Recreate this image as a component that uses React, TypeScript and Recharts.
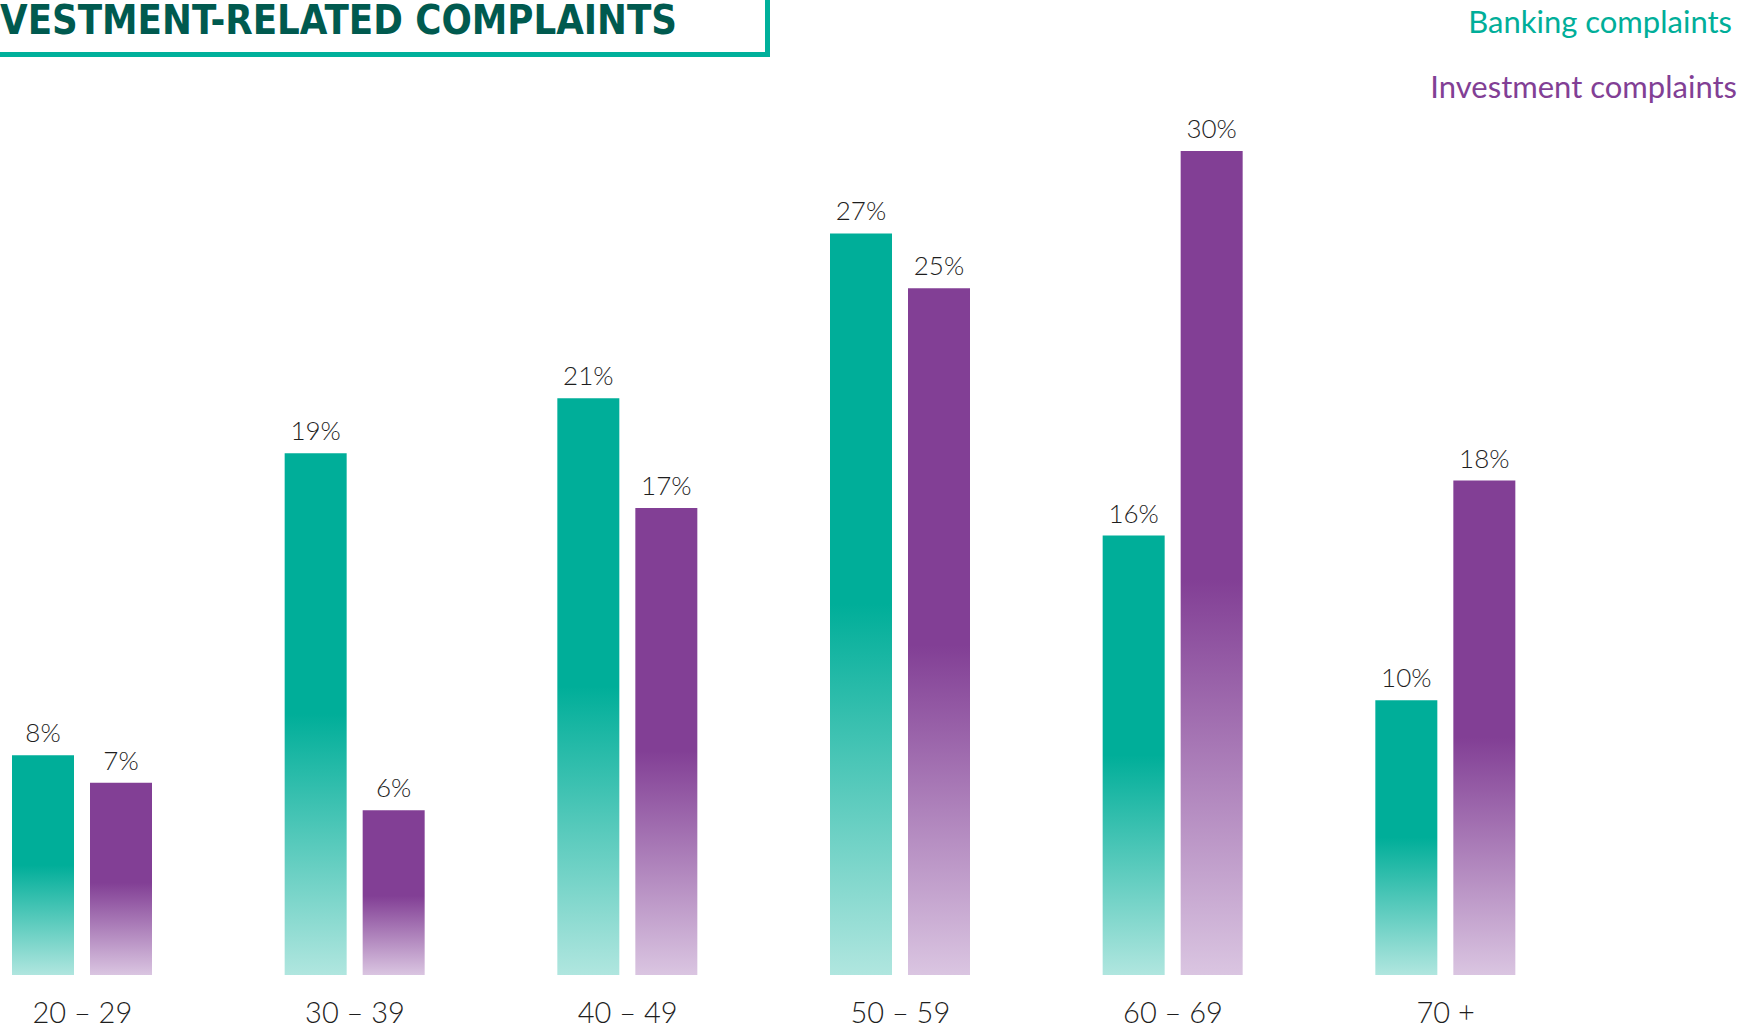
import React from 'react';
import { BarChart, Bar, XAxis, YAxis, LabelList } from 'recharts';

const ageGroups = ['20 – 29', '30 – 39', '40 – 49', '50 – 59', '60 – 69', '70 +'];
const bankingComplaints = [8, 19, 21, 27, 16, 10];
const investmentComplaints = [7, 6, 17, 25, 30, 18];

const chartData = ageGroups.map((age, i) => ({
  age,
  banking: bankingComplaints[i],
  investment: investmentComplaints[i],
}));

const TEAL = '#00ae99';
const PURPLE = '#823f95';
const FONT = 'Lato, "Noto Sans", sans-serif';

const AgeTick = (props: any) => {
  const { x, y, payload } = props;
  return (
    <text x={x} y={y} dy={46} textAnchor="middle" fill="#1e1e1e" fontSize={29} fontWeight={300} fontFamily={FONT}>
      {payload.value}
    </text>
  );
};

const App = () => {
  return (
    <div style={{ position: 'absolute', left: 0, top: 0, width: 1758, height: 1029, overflow: 'hidden', background: '#fff' }}>
      <div style={{ position: 'absolute', left: -54, top: 0 }}>
        <BarChart
          width={1636}
          height={1029}
          data={chartData}
          margin={{ top: 151, right: 0, left: 0, bottom: 24 }}
          barSize={62}
          barGap={16}
        >
          <defs>
            <linearGradient id="tealFade" x1="0" y1="0" x2="0" y2="1">
              <stop offset="0%" stopColor={TEAL} />
              <stop offset="50%" stopColor={TEAL} />
              <stop offset="100%" stopColor="#b0e6df" />
            </linearGradient>
            <linearGradient id="purpleFade" x1="0" y1="0" x2="0" y2="1">
              <stop offset="0%" stopColor={PURPLE} />
              <stop offset="52%" stopColor={PURPLE} />
              <stop offset="100%" stopColor="#dac5e1" />
            </linearGradient>
          </defs>
          <XAxis dataKey="age" axisLine={false} tickLine={false} tickSize={0} tick={<AgeTick />} interval={0} height={30} />
          <YAxis hide domain={[0, 30]} />
          <Bar dataKey="banking" fill="url(#tealFade)" isAnimationActive={false}>
            <LabelList
              dataKey="banking"
              position="top"
              offset={13}
              formatter={(v: any) => `${v}%`}
              style={{ fill: '#1e1e1e', fontSize: 26, fontWeight: 300, fontFamily: FONT }}
            />
          </Bar>
          <Bar dataKey="investment" fill="url(#purpleFade)" isAnimationActive={false}>
            <LabelList
              dataKey="investment"
              position="top"
              offset={13}
              formatter={(v: any) => `${v}%`}
              style={{ fill: '#1e1e1e', fontSize: 26, fontWeight: 300, fontFamily: FONT }}
            />
          </Bar>
        </BarChart>
      </div>
      <svg width={1758} height={120} style={{ position: 'absolute', left: 0, top: 0 }}>
        <rect x={0} y={52} width={770} height={5} fill="#00b09b" />
        <rect x={765} y={0} width={5} height={57} fill="#00b09b" />
        <text
          x={0}
          y={34}
          textLength={677}
          lengthAdjust="spacingAndGlyphs"
          fill="#005a4f"
          fontSize={41}
          fontWeight={700}
          fontFamily='"DejaVu Sans Condensed", "Liberation Sans Narrow", sans-serif'
        >
          VESTMENT-RELATED COMPLAINTS
        </text>
        <text x={1732} y={33} textAnchor="end" fill={TEAL} fontSize={31} fontFamily={FONT}>
          Banking complaints
        </text>
        <text x={1737} y={98} textAnchor="end" fill={PURPLE} fontSize={31} fontFamily={FONT}>
          Investment complaints
        </text>
      </svg>
    </div>
  );
};

export default App;
